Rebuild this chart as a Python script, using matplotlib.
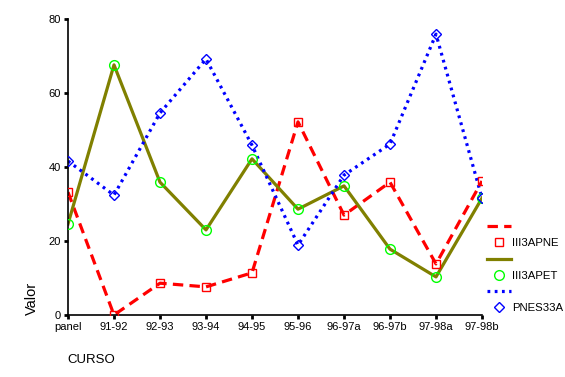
import matplotlib
matplotlib.use("Agg")
import matplotlib.pyplot as plt
from matplotlib.lines import Line2D

plt.rcParams["font.family"] = ["Liberation Sans", "DejaVu Sans"]
plt.rcParams["lines.scale_dashes"] = False

cursos = ["panel", "91-92", "92-93", "93-94", "94-95", "95-96",
          "96-97a", "96-97b", "97-98a", "97-98b"]
apne = [33.2, 0.0, 8.6, 7.6, 11.4, 52.2, 27.0, 35.9, 13.8, 36.2]
apet = [24.6, 67.6, 35.9, 23.0, 42.2, 28.6, 34.9, 17.8, 10.3, 31.6]
pnes = [41.6, 32.4, 54.6, 69.2, 45.9, 18.9, 37.8, 46.2, 75.9, 31.6]

RED = "#ff0000"
OLIVE = "#808000"
BLUE = "#0000ff"
GREEN = "#00ff00"


def main():
    fig = plt.figure(figsize=(5.65, 3.77), dpi=100)
    ax = fig.add_axes([68 / 565, 1 - 315 / 377, 414 / 565, 296 / 377])
    x = list(range(len(cursos)))

    ax.plot(x, apne, color=RED, lw=2.3, dashes=(7.5, 4.5), zorder=2)
    ax.plot(x, apet, color=OLIVE, lw=2.3, zorder=2)
    ax.plot(x, pnes, color=BLUE, lw=2.3, dashes=(2, 3.2),
            dash_capstyle="butt", zorder=2)

    ax.plot(x, apne, ls="none", marker="s", ms=5.5, mfc="none", mec=RED, mew=1, zorder=3)
    ax.plot(x, apet, ls="none", marker="o", ms=7, mfc="none", mec=GREEN, mew=1, zorder=3)
    ax.plot(x, pnes, ls="none", marker="D", ms=5, mfc="none", mec=BLUE, mew=1, zorder=3)

    ax.set_xlim(0, len(cursos) - 1)
    ax.set_ylim(0, 80)
    ax.set_xticks(x)
    ax.set_xticklabels(cursos)
    ax.set_yticks([0, 20, 40, 60, 80])
    for s in ["top", "right"]:
        ax.spines[s].set_visible(False)
    for s in ["left", "bottom"]:
        ax.spines[s].set_linewidth(1.2)
    ax.tick_params(length=3, width=2, labelsize=8, pad=2)
    ax.set_facecolor("none")

    fig.text(25 / 565, 1 - 315 / 377, "Valor", rotation=90, fontsize=10.5,
             ha="left", va="bottom")
    fig.text(67 / 565, 1 - 360 / 377, "CURSO", fontsize=9.5, ha="left", va="center")

    # legend: line sample, then marker + name, as in the original
    handles = [
        Line2D([], [], color=RED, lw=2.3, dashes=(7.5, 4.5)),
        Line2D([], [], ls="none", marker="s", ms=5.5, mfc="none", mec=RED),
        Line2D([], [], color=OLIVE, lw=2.3),
        Line2D([], [], ls="none", marker="o", ms=7, mfc="none", mec=GREEN),
        Line2D([], [], color=BLUE, lw=2.3, dashes=(2, 3.2), dash_capstyle="butt"),
        Line2D([], [], ls="none", marker="D", ms=5, mfc="none", mec=BLUE),
    ]
    labels = ["", "III3APNE", "", "III3APET", "", "PNES33A"]
    fig.legend(handles, labels, loc="upper left",
               bbox_to_anchor=(487 / 565, 1 - 222 / 377), frameon=False,
               fontsize=8.2, handlelength=2.1, handletextpad=0.1,
               labelspacing=0.55, borderpad=0, borderaxespad=0)

    fig.savefig("out.png", dpi=100)


if __name__ == "__main__":
    main()
